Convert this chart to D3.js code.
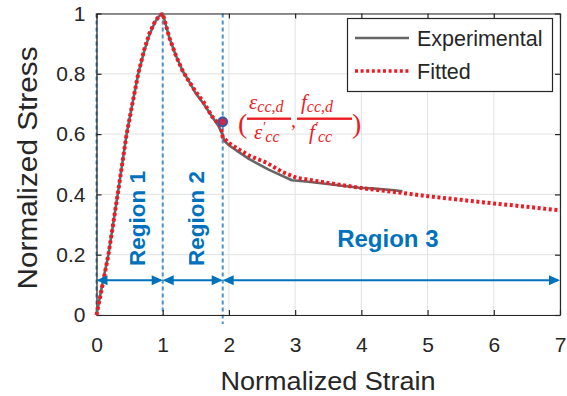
<!DOCTYPE html>
<html><head><meta charset="utf-8">
<script src="https://cdn.jsdelivr.net/npm/d3@7"></script>
<style>
body{margin:0;background:#fff}
svg{display:block}
text{font-family:"Liberation Sans",Arial,Helvetica,sans-serif}
</style>
</head><body><svg id="c" width="567" height="396"></svg>
<script>
// ---- data ----
const xTicks = [0, 1, 2, 3, 4, 5, 6, 7];
const xTickLabels = ["0", "1", "2", "3", "4", "5", "6", "7"];
const yTicks = [0, 0.2, 0.4, 0.6, 0.8, 1];
const yTickLabels = ["0", "0.2", "0.4", "0.6", "0.8", "1"];

const expStrain = [0, 0.1, 0.18, 0.32, 0.455, 0.55, 0.63, 0.72, 0.8, 0.88, 0.94, 1.0, 1.05, 1.1, 1.2, 1.3, 1.41, 1.5, 1.62, 1.74, 1.84, 1.9, 1.93, 2.0, 2.15, 2.3, 2.6, 2.95, 3.2, 3.55, 3.97, 4.2, 4.5, 4.62];
const expStress = [0, 0.115, 0.2, 0.4, 0.6, 0.71, 0.8, 0.875, 0.93, 0.97, 0.99, 1.0, 0.96, 0.92, 0.86, 0.81, 0.77, 0.735, 0.7, 0.66, 0.628, 0.6, 0.578, 0.563, 0.54, 0.518, 0.482, 0.447, 0.442, 0.433, 0.422, 0.419, 0.414, 0.41];

const fitStrain = [0, 0.1, 0.18, 0.32, 0.455, 0.55, 0.63, 0.72, 0.8, 0.88, 0.94, 1.0, 1.05, 1.1, 1.2, 1.3, 1.41, 1.5, 1.62, 1.74, 1.84, 1.88, 1.906, 2.0, 2.12, 2.32, 2.57, 2.8, 3.02, 3.5, 4.03, 4.5, 5.08, 5.5, 6.0, 6.5, 7.0];
const fitStress = [0, 0.11, 0.2, 0.4, 0.6, 0.71, 0.8, 0.88, 0.935, 0.972, 0.99, 1.0, 0.96, 0.92, 0.86, 0.81, 0.77, 0.74, 0.705, 0.66, 0.635, 0.625, 0.59, 0.57, 0.553, 0.527, 0.505, 0.475, 0.455, 0.438, 0.42, 0.408, 0.392, 0.382, 0.37, 0.359, 0.347];

const regionBounds = [0, 1, 1.906, 7];
const regionNames = ["Region 1", "Region 2", "Region 3"];
const regionLabelPos = [[0.62, 0.32, -90], [1.5, 0.32, -90], [4.4, 0.255, 0]];
const dashedAt = [0, 1, 1.906];
const transitionPoint = [1.906, 0.641];
const arrowLevel = 0.115;
const legendNames = ["Experimental", "Fitted"];

// ---- layout ----
const svg = d3.select("#c");
const x = d3.scaleLinear().domain([0, 7]).range([96.5, 560]);
const y = d3.scaleLinear().domain([0, 1]).range([315, 13.5]);
const AX = "#262626", RED = "#ec1c24", BLUE = "#0072BD", DASH = "#4a93c9";

// grid
const grid = svg.append("g");
grid.selectAll("line.v").data(xTicks).join("line")
  .attr("x1", d => x(d)).attr("x2", d => x(d)).attr("y1", y(0)).attr("y2", y(1))
  .attr("stroke", "#e2e2e2").attr("stroke-width", 1);
grid.selectAll("line.h").data(yTicks).join("line")
  .attr("x1", x(0)).attr("x2", x(7)).attr("y1", d => y(d)).attr("y2", d => y(d))
  .attr("stroke", "#e2e2e2").attr("stroke-width", 1);

// dashed region boundaries
svg.append("g").selectAll("line").data(dashedAt).join("line")
  .attr("x1", d => x(d)).attr("x2", d => x(d))
  .attr("y1", y(1)).attr("y2", d => d > 1.5 ? y(-0.03) : y(0))
  .attr("stroke", DASH).attr("stroke-width", 2).attr("stroke-dasharray", "4,3");

// axes (box with inward ticks)
function styleAxis(g) {
  g.select(".domain").attr("stroke", AX).attr("stroke-width", 1.2);
  g.selectAll(".tick line").attr("stroke", AX).attr("stroke-width", 1.2);
  g.selectAll(".tick text").attr("fill", AX).style("font-size", "21px")
    .style("font-family", '"Liberation Sans",Arial,sans-serif');
}
svg.append("g").attr("transform", `translate(0,${y(0)})`)
  .call(d3.axisBottom(x).tickValues(xTicks).tickFormat((d, i) => xTickLabels[i]).tickSizeInner(-5).tickSizeOuter(0).tickPadding(22))
  .call(styleAxis);
svg.append("g").attr("transform", `translate(${x(0)},0)`)
  .call(d3.axisLeft(y).tickValues(yTicks).tickFormat((d, i) => yTickLabels[i]).tickSizeInner(-5).tickSizeOuter(0).tickPadding(11))
  .call(styleAxis);
svg.append("g").attr("transform", `translate(0,${y(1)})`)
  .call(d3.axisTop(x).tickValues(xTicks).tickFormat("").tickSizeInner(-5).tickSizeOuter(0))
  .call(styleAxis);
svg.append("g").attr("transform", `translate(${x(7)},0)`)
  .call(d3.axisRight(y).tickValues(yTicks).tickFormat("").tickSizeInner(-5).tickSizeOuter(0))
  .call(styleAxis);

// axis titles
svg.append("text").attr("x", 328).attr("y", 390).attr("text-anchor", "middle")
  .attr("fill", AX).style("font-size", "26px")
  .attr("textLength", 215).attr("lengthAdjust", "spacingAndGlyphs")
  .text("Normalized Strain");
svg.append("text").attr("transform", "translate(37,168) rotate(-90)").attr("text-anchor", "middle")
  .attr("fill", AX).style("font-size", "27px")
  .attr("textLength", 243).attr("lengthAdjust", "spacingAndGlyphs")
  .text("Normalized Stress");

// curves
const line = d3.line().x(d => x(d[0])).y(d => y(d[1]));
const expData = expStrain.map((v, i) => [v, expStress[i]]);
const fitData = fitStrain.map((v, i) => [v, fitStress[i]]);
svg.append("path").datum(expData).attr("d", line)
  .attr("fill", "none").attr("stroke", "#666").attr("stroke-width", 2.6).attr("stroke-linejoin", "round");
svg.append("path").datum(fitData).attr("d", line)
  .attr("fill", "none").attr("stroke", RED).attr("stroke-width", 4).attr("stroke-dasharray", "3,2.6");

// transition point
svg.append("circle").attr("cx", x(transitionPoint[0])).attr("cy", y(transitionPoint[1])).attr("r", 4.5)
  .attr("fill", "#c8284a").attr("stroke", "#2a5db0").attr("stroke-width", 1.8);

// region arrows
const arrows = svg.append("g");
const ya = y(arrowLevel), AL = 11, AW = 5;
for (let i = 0; i < regionBounds.length - 1; i++) {
  const a = x(regionBounds[i]), b = x(regionBounds[i + 1]);
  arrows.append("line").attr("x1", a + 2).attr("x2", b - 2).attr("y1", ya).attr("y2", ya)
    .attr("stroke", BLUE).attr("stroke-width", 2);
  arrows.append("path").attr("d", `M${a},${ya} L${a + AL},${ya - AW} L${a + AL},${ya + AW} Z`).attr("fill", BLUE);
  arrows.append("path").attr("d", `M${b},${ya} L${b - AL},${ya - AW} L${b - AL},${ya + AW} Z`).attr("fill", BLUE);
}

// region labels
svg.append("g").selectAll("text").data(regionNames).join("text")
  .attr("transform", (d, i) => `translate(${x(regionLabelPos[i][0])},${y(regionLabelPos[i][1])}) rotate(${regionLabelPos[i][2]})`)
  .attr("text-anchor", "middle").attr("dy", "0.35em")
  .attr("fill", BLUE).style("font-size", (d, i) => i === 2 ? "24px" : "22.5px").style("font-weight", "bold")
  .text(d => d);

// annotation
const an = svg.append("g").attr("fill", RED);
const SERIF = '"Liberation Serif","Times New Roman",serif';
function t(xp, yp, s, size, italic) {
  an.append("text").attr("x", xp).attr("y", yp).style("font-size", size + "px")
    .style("font-style", italic ? "italic" : "normal").style("font-family", SERIF).text(s);
}
function frac(xp, yp, main, sub, size) {
  const tx = an.append("text").attr("x", xp).attr("y", yp).style("font-family", SERIF).style("font-style", "italic");
  tx.append("tspan").style("font-size", size + "px").text(main);
  tx.append("tspan").style("font-size", "16px").attr("dy", 3).text(sub);
}
function den(xp, yp, main, sub) {
  const tx = an.append("text").attr("x", xp).attr("y", yp).style("font-family", SERIF).style("font-style", "italic");
  tx.append("tspan").style("font-size", "21px").text(main);
  tx.append("tspan").style("font-size", "14px").attr("dy", -7).text("′");
  tx.append("tspan").style("font-size", "16px").attr("dy", 10).text(sub);
}
t(238, 133, "(", 28, false);
frac(249, 109, "ε", "cc,d", 21);
an.append("rect").attr("x", 247).attr("y", 117.5).attr("width", 44).attr("height", 2.4);
den(254, 139, "ε", "cc");
t(291, 127, ",", 20, true);
frac(301, 109, "f", "cc,d", 21);
an.append("rect").attr("x", 297).attr("y", 117.5).attr("width", 55).attr("height", 2.4);
den(309, 139, "f", "cc");
t(352, 133, ")", 28, false);

// legend
const lg = svg.append("g");
lg.append("rect").attr("x", 347.5).attr("y", 18.5).attr("width", 205).attr("height", 73)
  .attr("fill", "#fff").attr("stroke", AX).attr("stroke-width", 1.2);
lg.append("line").attr("x1", 355).attr("x2", 409).attr("y1", 38).attr("y2", 38)
  .attr("stroke", "#666").attr("stroke-width", 2.6);
lg.append("line").attr("x1", 355).attr("x2", 409).attr("y1", 71).attr("y2", 71)
  .attr("stroke", RED).attr("stroke-width", 3.6).attr("stroke-dasharray", "3,2.6");
lg.selectAll("text").data(legendNames).join("text")
  .attr("x", 417).attr("y", (d, i) => 46 + i * 33)
  .attr("fill", AX).style("font-size", "21.5px").text(d => d);
</script>
</body></html>
